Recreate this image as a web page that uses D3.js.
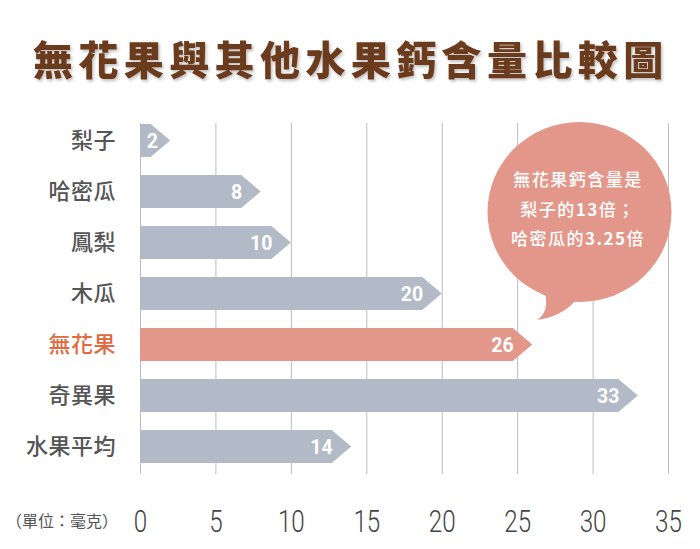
<!DOCTYPE html>
<html>
<head>
<meta charset="utf-8">
<script src="https://cdn.jsdelivr.net/npm/d3@7"></script>
<style>
  html, body { margin: 0; padding: 0; background: #ffffff; }
  svg { display: block; }
</style>
</head>
<body>
<svg id="chart" width="700" height="549"></svg>
<script>
// ---- data ----
const title = "無花果與其他水果鈣含量比較圖";
const categories = ["梨子", "哈密瓜", "鳳梨", "木瓜", "無花果", "奇異果", "水果平均"];
const values = [2, 8, 10, 20, 26, 33, 14];
const highlightCategory = "無花果";
const tickValues = [0, 5, 10, 15, 20, 25, 30, 35];
const unitLabel = "（單位：毫克）";
const bubbleLines = [
  [["無花果鈣含量是", false]],
  [["梨子的", false], ["13", true], ["倍；", false]],
  [["哈密瓜的", false], ["3.25", true], ["倍", false]]
];

// ---- styles ----
const W = 700, H = 549;
const grayBar = "#b1bac6";
const pinkBar = "#e3978b";
const labelGray = "#555555";
const labelHi = "#e2683e";
const titleColor = "#6b3a1c";
const cjk = "'Noto Sans CJK TC', 'Noto Sans CJK SC', sans-serif";

const svg = d3.select("#chart");
svg.append("rect").attr("width", W).attr("height", H).attr("fill", "#fff");

const defs = svg.append("defs");
const f = defs.append("filter").attr("id", "tshadow")
  .attr("x", "-5%").attr("y", "-20%").attr("width", "110%").attr("height", "150%");
f.append("feDropShadow").attr("dx", 1.5).attr("dy", 2).attr("stdDeviation", 1.5)
  .attr("flood-color", "#000").attr("flood-opacity", 0.25);

// title
svg.append("text")
  .attr("x", 33).attr("y", 75)
  .attr("font-family", cjk)
  .attr("font-weight", 900)
  .attr("font-size", 40)
  .attr("letter-spacing", 5.4)
  .attr("fill", titleColor)
  .attr("filter", "url(#tshadow)")
  .text(title);

// scales
const x = d3.scaleLinear().domain([0, 35]).range([140, 668]);
const y = d3.scaleBand().domain(categories).range([115, 472])
  .paddingInner(0.35).paddingOuter(0.175);

const axisY = 474;
const gridTop = 123;

// grid + axis
const axisG = svg.append("g")
  .attr("transform", `translate(0,${axisY})`)
  .call(d3.axisBottom(x).tickValues(tickValues).tickSize(-(axisY - gridTop)).tickFormat(d3.format("d")));
axisG.select(".domain").remove();
axisG.selectAll(".tick line").attr("stroke", "#bcbcbc").attr("stroke-width", 1);
axisG.selectAll(".tick text")
  .attr("dy", null)
  .attr("y", 58)
  .attr("fill", "#444")
  .attr("font-family", "Roboto, sans-serif")
  .attr("font-weight", 300)
  .attr("font-size", 31)
  .attr("transform", "scale(0.78,1)");

// unit label
svg.append("text")
  .attr("x", 118).attr("y", 527)
  .attr("text-anchor", "end")
  .attr("font-family", cjk)
  .attr("font-size", 16)
  .attr("fill", labelGray)
  .text(unitLabel);

// bars (arrow shaped)
const head = 19.5;
const data = categories.map((c, i) => ({ c, v: values[i] }));
const bh = y.bandwidth();

svg.append("g").selectAll("path")
  .data(data)
  .join("path")
  .attr("d", d => {
    const x0 = x(0), tip = x(d.v), body = tip - head;
    const t = y(d.c), b = t + bh, m = t + bh / 2;
    return `M${x0},${t}L${body},${t}L${tip},${m}L${body},${b}L${x0},${b}Z`;
  })
  .attr("fill", d => d.c === highlightCategory ? pinkBar : grayBar);

// value labels
svg.append("g").selectAll("text")
  .data(data)
  .join("text")
  .attr("x", d => Math.max(x(d.v) - head + 1, x(0) + 18))
  .attr("y", d => y(d.c) + bh / 2)
  .attr("dy", "0.36em")
  .attr("text-anchor", "end")
  .attr("font-family", "Roboto, sans-serif")
  .attr("font-weight", 700)
  .attr("font-size", 19.5)
  .attr("fill", "#ffffff")
  .text(d => d.v);

// category labels
svg.append("g").selectAll("text")
  .data(data)
  .join("text")
  .attr("x", 116)
  .attr("y", d => y(d.c) + bh / 2)
  .attr("dy", "0.36em")
  .attr("text-anchor", "end")
  .attr("font-family", cjk)
  .attr("font-weight", 500)
  .attr("font-size", 22)
  .attr("letter-spacing", 0.5)
  .attr("fill", d => d.c === highlightCategory ? labelHi : labelGray)
  .text(d => d.c);

// speech bubble
const bub = svg.append("g");
bub.append("ellipse").attr("cx", 579.5).attr("cy", 212).attr("rx", 92).attr("ry", 90).attr("fill", pinkBar);
bub.append("path")
  .attr("d", "M545,292 C548,306 545,315 537,320 C552,318 566,312 576,300 Z")
  .attr("fill", pinkBar);

const bt = bub.append("text")
  .attr("text-anchor", "middle")
  .attr("font-family", cjk)
  .attr("font-size", 17)
  .attr("letter-spacing", 1.5)
  .attr("fill", "#ffffff");
bubbleLines.forEach((line, i) => {
  const t = bt.append("tspan").attr("x", 578).attr("y", 186 + i * 29.7);
  line.forEach(([s, bold]) => {
    t.append("tspan").attr("font-weight", bold ? 700 : 500).text(s);
  });
});
</script>
</body>
</html>
